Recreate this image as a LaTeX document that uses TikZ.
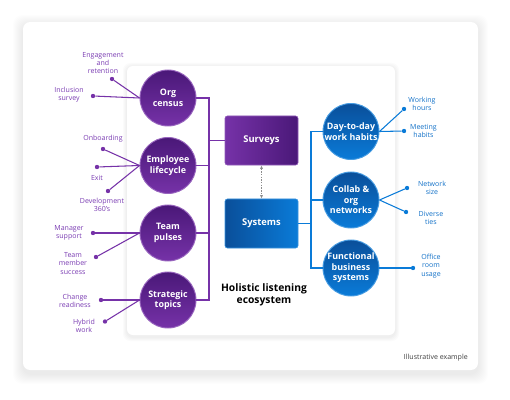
\documentclass[tikz,border=0pt]{standalone}
\usepackage{fontspec}
\setmainfont{Open Sans}
\usepackage{tikz}
\usetikzlibrary{arrows.meta}
\definecolor{purpD}{HTML}{4A1878}
\definecolor{purpL}{HTML}{7632A8}
\definecolor{purpT}{HTML}{7B3DB3}
\definecolor{blueD}{HTML}{0A4F9A}
\definecolor{blueL}{HTML}{0A7BD8}
\definecolor{blueT}{HTML}{1573C9}
\tikzset{
  pcirc/.style={circle, minimum size=1.68cm, inner sep=0pt, top color=purpD,
                bottom color=purpL, draw=purpL!75!white, line width=0.8pt,
                text=white, align=center, font=\fontsize{7.6}{9}\selectfont\bfseries},
  bcirc/.style={pcirc, top color=blueD, bottom color=blueL, draw=blueL!75!white},
  pbox/.style={rectangle, rounded corners=2pt, minimum width=2.19cm,
               minimum height=1.47cm, left color=purpL, right color=purpD,
               draw=purpL!80!white, line width=0.5pt, text=white,
               font=\fontsize{8}{9.5}\selectfont\bfseries},
  bbox/.style={pbox, left color=blueD, right color=blueL, draw=blueL!80!white},
  pleaf/.style={text=purpT, align=center, inner sep=0pt,
                font=\fontsize{6}{7.1}\selectfont},
  bleaf/.style={pleaf, text=blueT},
  pdot/.style={circle, fill=purpL, inner sep=0pt, minimum size=0.13cm},
  bdot/.style={pdot, fill=blueL},
  pline/.style={draw=purpL, line width=0.9pt},
  bline/.style={draw=blueL, line width=0.9pt},
  darrow/.style={{Latex[length=3pt,width=2.5pt]}-{Latex[length=3pt,width=2.5pt]},
                 draw=black!45, line width=0.6pt, dash pattern=on 1.3pt off 1pt},
}
\begin{document}
\begin{tikzpicture}[x=0.03cm, y=-0.03cm]
  \useasboundingbox (0,0) rectangle (510,400);
  \fill[white] (0,0) rectangle (510,400);
  % outer card with soft shadow
  \foreach \i in {1,...,10}
    \fill[black, opacity=0.009, rounded corners=8pt]
      ({23-\i},{25-\i}) rectangle ({478+\i},{374+\i});
  \fill[white, rounded corners=6pt] (23,22) rectangle (478,370);
  % inner panel
  \foreach \i in {1,...,4}
    \fill[black, opacity=0.014, rounded corners=6pt]
      ({127-\i},{67-\i}) rectangle ({395+\i},{337+\i});
  \fill[white, rounded corners=5pt] (127,66) rectangle (395,335);

  % surveys side
  \node[pcirc] (org) at (168,98) {Org\\census};
  \node[pcirc] (emp) at (168,165.5) {Employee\\lifecycle};
  \node[pcirc] (team) at (168,233) {Team\\pulses};
  \node[pcirc] (strat) at (168,300) {Strategic\\topics};
  \node[pbox] (surveys) at (261.5,140.5) {Surveys};
  \node[bbox] (systems) at (261.5,223.5) {Systems};

  % systems side
  \node[bcirc] (day) at (351,131.5) {Day-to-day\\work habits};
  \node[bcirc] (collab) at (351,200) {Collab \&\\org\\networks};
  \node[bcirc] (func) at (351,268) {Functional\\business\\systems};

  \node[font=\fontsize{8.8}{10}\selectfont\bfseries, align=center] (eco)
    at (264,295) {Holistic listening\\ecosystem};
  \node[font=\fontsize{6}{7}\selectfont, text=black!75, anchor=east, inner sep=0pt]
    (note) at (468,357.5) {Illustrative example};

  % buses
  \coordinate (pjoin) at (209,140.5);
  \draw[pline] (org.east) -| (pjoin) -- (surveys.west);
  \draw[pline] (strat.east) -| (pjoin);
  \draw[pline] (emp.east) -- (emp.east -| pjoin);
  \draw[pline] (team.east) -- (team.east -| pjoin);
  \coordinate (bjoin) at (311,223.5);
  \draw[bline] (systems.east) -- (bjoin);
  \draw[bline] (day.west) -| (bjoin);
  \draw[bline] (func.west) -| (bjoin);
  \draw[bline] (collab.west) -- (collab.west -| bjoin);
  \draw[darrow] (surveys.south) -- (systems.north);

  % left leaves
  \node[pdot] (d-eng) at (112,79) {};
  \node[pleaf] (l-eng) at (103,63) {Engagement\\and\\retention};
  \node[pdot] (d-inc) at (93,96) {};
  \node[pleaf] (l-inc) at (69,95) {Inclusion\\survey};
  \node[pdot] (d-onb) at (103,149) {};
  \node[pleaf] (l-onb) at (103,139) {Onboarding};
  \node[pdot] (d-exit) at (97,167) {};
  \node[pleaf] (l-exit) at (97,177.5) {Exit};
  \node[pdot] (d-dev) at (108,191) {};
  \node[pleaf] (l-dev) at (102,205) {Development\\360's};
  \node[pdot] (d-man) at (93,233) {};
  \node[pleaf] (l-man) at (69,232.5) {Manager\\support};
  \node[pdot] (d-mem) at (96,257) {};
  \node[pleaf] (l-mem) at (73,263.5) {Team\\member\\success};
  \node[pdot] (d-chg) at (101,300) {};
  \node[pleaf] (l-chg) at (75,301) {Change\\readiness};
  \node[pdot] (d-hyb) at (105,321.5) {};
  \node[pleaf] (l-hyb) at (84,326) {Hybrid\\work};

  \draw[pline] (org.west) -- (d-eng); \draw[pline] (org.west) -- (d-inc);
  \draw[pline] (emp.west) -- (d-onb); \draw[pline] (emp.west) -- (d-exit);
  \draw[pline] (emp.west) -- (d-dev);
  \draw[pline] (team.west) -- (d-man); \draw[pline] (team.west) -- (d-mem);
  \draw[pline] (strat.west) -- (d-chg); \draw[pline] (strat.west) -- (d-hyb);

  % right leaves
  \node[bdot] (d-work) at (404,109) {};
  \node[bleaf] (l-work) at (422,104) {Working\\hours};
  \node[bdot] (d-meet) at (404,131) {};
  \node[bleaf] (l-meet) at (423.5,131) {Meeting\\habits};
  \node[bdot] (d-size) at (407,188) {};
  \node[bleaf] (l-size) at (432,188) {Network\\size};
  \node[bdot] (d-div) at (406,212) {};
  \node[bleaf] (l-div) at (431,218) {Diverse\\ties};
  \node[bdot] (d-room) at (413,268) {};
  \node[bleaf] (l-room) at (431,266) {Office\\room\\usage};

  \draw[bline] (day.east) -- (d-work); \draw[bline] (day.east) -- (d-meet);
  \draw[bline] (collab.east) -- (d-size); \draw[bline] (collab.east) -- (d-div);
  \draw[bline] (func.east) -- (d-room);
\end{tikzpicture}
\end{document}
